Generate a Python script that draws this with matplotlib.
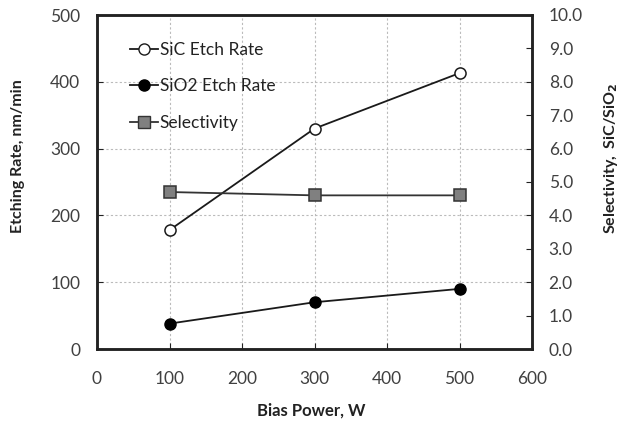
import matplotlib
matplotlib.use("Agg")
import matplotlib.pyplot as plt
from matplotlib.lines import Line2D

# data
bias_power = [100, 300, 500]
sic_rate = [178, 330, 413]
sio2_rate = [38, 70, 90]
selectivity = [4.7, 4.6, 4.6]

x_ticks = [0, 100, 200, 300, 400, 500, 600]
left_ticks = [0, 100, 200, 300, 400, 500]
right_ticks = [0, 1, 2, 3, 4, 5, 6, 7, 8, 9, 10]

plt.rcParams['font.family'] = ['Lato', 'DejaVu Sans']
tick_col = '#404040'
W, H = 623, 421


def main():
    fig = plt.figure(figsize=(W/100, H/100), dpi=100)
    ax = fig.add_axes([97/W, 1 - 349/H, 435/W, 334/H])
    ax2 = ax.twinx()

    # etch rates on the left axis
    ax.plot(bias_power, sic_rate, '-', color='#1a1a1a', lw=1.3, marker='o',
            ms=8, mfc='white', mec='#1a1a1a', mew=1.1, zorder=3)
    ax.plot(bias_power, sio2_rate, '-', color='#1a1a1a', lw=1.3, marker='o',
            ms=8, mfc='black', mec='black', zorder=3)
    # selectivity on the right
    ax2.plot(bias_power, selectivity, '-', color='#333333', lw=1.3, marker='s',
             ms=8.5, mfc='#808080', mec='#333333', mew=1.1, zorder=3)

    ax.set_xlim(0, 600)
    ax.set_ylim(0, 500)
    ax2.set_ylim(0, 10)
    ax.set_xticks(x_ticks)
    ax.set_yticks(left_ticks)
    ax2.set_yticks(right_ticks)
    ax2.set_yticklabels([f"{v:.1f}" for v in right_ticks])

    ax.grid(True, ls=(0, (2, 2)), color='#bbbbbb', lw=0.8)
    ax.set_axisbelow(True)

    ax.tick_params(direction='in', length=4, colors='#222222', labelcolor=tick_col,
                   labelsize=12.5)
    ax2.tick_params(direction='in', length=4, colors='#222222', labelcolor=tick_col,
                    labelsize=12.5, pad=12)
    ax.tick_params(axis='x', pad=16)
    ax.tick_params(axis='y', pad=12)
    for sp in ax.spines.values():
        sp.set_linewidth(1.8)
        sp.set_color('#222222')
    for sp in ax2.spines.values():
        sp.set_linewidth(1.8)
        sp.set_color('#222222')

    # axis titles placed directly in figure pixels
    fig.text(311/W, 1 - 411/H, "Bias Power, W", fontsize=12, fontweight='bold',
             color='#222222', ha='center', va='center')
    fig.text(18/W, 1 - 156/H, "Etching Rate, nm/min", fontsize=11.5,
             fontweight='bold', color='#222222', ha='center', va='center',
             rotation=90)
    fig.text(611/W, 1 - 158/H, "Selectivity,  SiC/SiO$_\\mathbf{2}$", fontsize=11.5,
             fontweight='bold', color='#222222', ha='center', va='center',
             rotation=90)

    handles = [
        Line2D([], [], color='#1a1a1a', lw=1.3, marker='o', ms=8, mfc='white',
               mec='#1a1a1a'),
        Line2D([], [], color='#1a1a1a', lw=1.3, marker='o', ms=8, mfc='black',
               mec='black'),
        Line2D([], [], color='#333333', lw=1.3, marker='s', ms=8.5, mfc='#808080',
               mec='#333333'),
    ]
    ax.legend(handles, ["SiC Etch Rate", "SiO2 Etch Rate", "Selectivity"],
              loc='upper left', bbox_to_anchor=(0.04, 0.967), frameon=False,
              fontsize=12.5, handlelength=1.6, handletextpad=0.1,
              labelspacing=1.2, labelcolor='#222222')

    fig.savefig("out.png", dpi=100)
    plt.close(fig)


if __name__ == "__main__":
    main()
